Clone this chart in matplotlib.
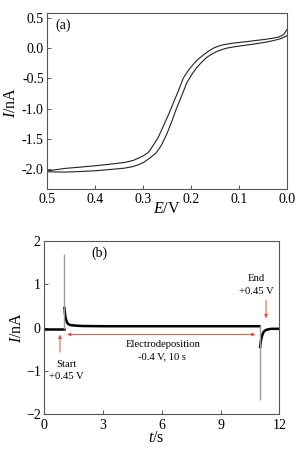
import numpy as np
import matplotlib
matplotlib.use('Agg')
import matplotlib.pyplot as plt

plt.rcParams['font.family'] = ['Liberation Serif', 'DejaVu Serif']
plt.rcParams['mathtext.fontset'] = 'custom'
plt.rcParams['mathtext.rm'] = 'Liberation Serif'
plt.rcParams['mathtext.it'] = 'Liberation Serif:italic'

# (a) two sweeps of the voltammogram
E_fwd = [0.500, 0.463, 0.430, 0.400, 0.370, 0.338, 0.320, 0.310, 0.299, 0.289, 0.279,
         0.268, 0.258, 0.247, 0.237, 0.226, 0.216, 0.205, 0.195, 0.185, 0.174, 0.164,
         0.153, 0.143, 0.133, 0.115, 0.099, 0.080, 0.064, 0.045, 0.028, 0.018, 0.0105,
         0.005, 0.0]
I_fwd = [-2.030, -1.989, -1.967, -1.945, -1.920, -1.890, -1.855, -1.820, -1.778, -1.724, -1.610,
         -1.470, -1.294, -1.100, -0.907, -0.700, -0.494, -0.360, -0.265, -0.180, -0.110, -0.050,
         0.003, 0.035, 0.058, 0.082, 0.097, 0.114, 0.130, 0.148, 0.169, 0.185, 0.207,
         0.240, 0.307]
E_rev = [0.500, 0.463, 0.430, 0.400, 0.370, 0.338, 0.322, 0.310, 0.299, 0.289, 0.280,
         0.273, 0.262, 0.251, 0.240, 0.230, 0.219, 0.209, 0.198, 0.188, 0.177, 0.167,
         0.156, 0.146, 0.135, 0.125, 0.108, 0.090, 0.073, 0.056, 0.038, 0.021, 0.010, 0.0]
I_rev = [-2.045, -2.050, -2.040, -2.028, -2.008, -1.984, -1.960, -1.930, -1.890, -1.835, -1.780,
         -1.735, -1.610, -1.430, -1.210, -0.990, -0.780, -0.576, -0.430, -0.320, -0.225, -0.150,
         -0.095, -0.052, -0.020, 0.003, 0.027, 0.047, 0.066, 0.086, 0.110, 0.141, 0.168, 0.207]

# (b) current transient
t_pre = [0.0, 0.5, 1.0]
I_pre = [-0.03, -0.03, -0.03]
t_dep = [1.03, 1.06, 1.1, 1.15, 1.2, 1.3, 1.45, 1.7, 2.0, 3.0, 5.0, 7.0, 9.0, 10.98]
I_dep = [0.45, 0.30, 0.20, 0.13, 0.09, 0.06, 0.05, 0.04, 0.035, 0.03, 0.03, 0.03, 0.03, 0.03]
t_post = [11.02, 11.05, 11.1, 11.15, 11.2, 11.3, 11.45, 11.6, 11.8, 12.0]
I_post = [-0.45, -0.33, -0.22, -0.15, -0.10, -0.06, -0.04, -0.03, -0.03, -0.03]
spike_t = [1.0, 11.0]
spike_top = [1.69, 0.03]
spike_bot = [-0.03, -1.67]

red = '#f0503c'
spine_c = '#555555'

fig = plt.figure(figsize=(3.06, 4.53), dpi=100)

def style(ax):
    for s in ax.spines.values():
        s.set_color(spine_c)
        s.set_linewidth(0.8)
    ax.tick_params(direction='in', length=3, width=0.7, color=spine_c,
                   labelsize=10, top=False, right=False)
    ax.tick_params(axis='y', pad=2.5)
    ax.tick_params(axis='x', pad=3.2)

ax1 = fig.add_axes([0.1546, 0.5828, 0.7824, 0.3892])
ax1.plot(E_fwd, I_fwd, color='#222222', lw=0.8)
ax1.plot(E_rev, I_rev, color='#222222', lw=0.8)
ax1.set_xlim(0.5, 0.0)
ax1.set_ylim(-2.33, 0.59)
ax1.set_xticks([0.5, 0.4, 0.3, 0.2, 0.1, 0.0])
ax1.set_yticks([0.5, 0.0, -0.5, -1.0, -1.5, -2.0])
ax1.set_xticklabels(['0.5', '0.4', '0.3', '0.2', '0.1', '0.0'])
ax1.set_yticklabels(['0.5', '0.0', '-0.5', '-1.0', '-1.5', '-2.0'])
style(ax1)
ax1.set_xlabel(r'$\mathit{E}$/V', fontsize=11.5)
ax1.set_ylabel(r'$\mathit{I}$/nA', fontsize=11.5)
ax1.xaxis.set_label_coords(0.5, -0.068)
ax1.yaxis.set_label_coords(-0.118, 0.49)
ax1.text(0.467, 0.39, '(a)', fontsize=10, ha='center', va='center')

ax2 = fig.add_axes([0.1448, 0.0854, 0.768, 0.3832])
ax2.plot(t_pre, I_pre, color='black', lw=1.8)
ax2.plot(t_dep, I_dep, color='black', lw=1.8)
ax2.plot(t_post, I_post, color='black', lw=1.8)
ax2.vlines(spike_t, spike_bot, spike_top, color='#9a9a9a', lw=1.0)
ax2.set_xlim(0, 12)
ax2.set_ylim(-2, 2)
ax2.set_xticks([0, 3, 6, 9, 12])
ax2.set_yticks([-2, -1, 0, 1, 2])
style(ax2)
ax2.set_xlabel(r'$\mathit{t}$/s', fontsize=11.5)
ax2.set_ylabel(r'$\mathit{I}$/nA', fontsize=11.5)
ax2.xaxis.set_label_coords(0.478, -0.092)
ax2.yaxis.set_label_coords(-0.084, 0.5)
ax2.text(2.8, 1.7, '(b)', fontsize=10, ha='center', va='center')

arr = dict(arrowstyle='-|>', color=red, lw=0.7, mutation_scale=5)
ax2.annotate('', xy=(0.8, -0.1), xytext=(0.8, -0.63), arrowprops=arr)
ax2.annotate('', xy=(11.32, 0.15), xytext=(11.32, 0.69), arrowprops=arr)
ax2.annotate('', xy=(10.93, -0.16), xytext=(1.02, -0.16),
             arrowprops=dict(arrowstyle='<|-|>', color=red, lw=0.7, mutation_scale=5))

fs = 7.7
ax2.text(1.14, -0.85, 'Start', fontsize=fs, ha='center', va='center')
ax2.text(1.14, -1.13, '+0.45 V', fontsize=fs, ha='center', va='center')
ax2.text(6.08, -0.40, 'Electrodeposition', fontsize=fs, ha='center', va='center')
ax2.text(6.0, -0.67, '-0.4 V, 10 s', fontsize=fs, ha='center', va='center')
ax2.text(10.8, 1.13, 'End', fontsize=fs, ha='center', va='center')
ax2.text(10.85, 0.84, '+0.45 V', fontsize=fs, ha='center', va='center')

fig.savefig('out.png', dpi=100)
